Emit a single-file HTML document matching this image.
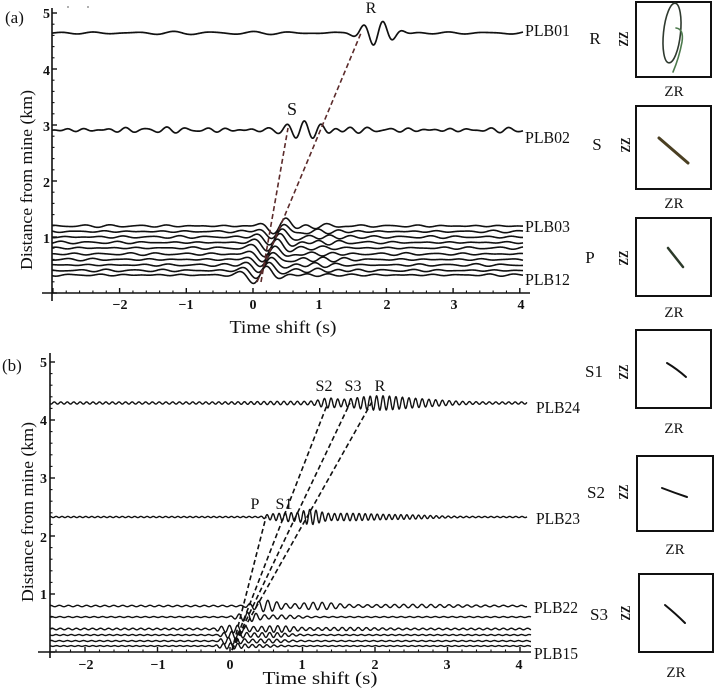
<!DOCTYPE html>
<html><head><meta charset="utf-8">
<style>
html,body{margin:0;padding:0;background:#fff;}
svg{display:block;}
text{font-family:"Liberation Serif",serif;fill:#111;}
.tk{font-weight:bold;font-size:14px;}
</style></head><body>
<svg id="s" width="715" height="691" viewBox="0 0 715 691" xmlns="http://www.w3.org/2000/svg">
<rect width="715" height="691" fill="#fff"/>
<circle cx="68" cy="7" r="1" fill="#999"/><circle cx="88" cy="7" r="1" fill="#999"/>

<!-- Panel (a) texts -->
<text x="5" y="23" font-size="17">(a)</text>
<text transform="translate(32,180) rotate(-90)" text-anchor="middle" font-size="17" textLength="180" lengthAdjust="spacingAndGlyphs">Distance from mine (km)</text>
<text x="283" y="333" text-anchor="middle" font-size="18" textLength="107" lengthAdjust="spacingAndGlyphs">Time shift (s)</text>
<g class="tk" text-anchor="middle">
<text x="120" y="309" class="tk">−2</text>
<text x="186" y="309" class="tk">−1</text>
<text x="253" y="309" class="tk">0</text>
<text x="319" y="309" class="tk">1</text>
<text x="387" y="309" class="tk">2</text>
<text x="454" y="309" class="tk">3</text>
<text x="521" y="309" class="tk">4</text>
</g>
<g text-anchor="end">
<text x="50" y="18" class="tk">5</text>
<text x="50" y="75" class="tk">4</text>
<text x="50" y="131" class="tk">3</text>
<text x="50" y="187" class="tk">2</text>
<text x="50" y="243" class="tk">1</text>
</g>
<g font-size="17">
<text x="525" y="36" textLength="45" lengthAdjust="spacingAndGlyphs">PLB01</text>
<text x="525" y="143" textLength="45" lengthAdjust="spacingAndGlyphs">PLB02</text>
<text x="525" y="232" textLength="45" lengthAdjust="spacingAndGlyphs">PLB03</text>
<text x="525" y="285" textLength="45" lengthAdjust="spacingAndGlyphs">PLB12</text>
</g>
<text x="371" y="13" text-anchor="middle" font-size="16">R</text>
<text x="292" y="115" text-anchor="middle" font-size="18">S</text>

<!-- Panel (b) texts -->
<text x="2" y="371" font-size="17">(b)</text>
<text transform="translate(33,512) rotate(-90)" text-anchor="middle" font-size="17" textLength="180" lengthAdjust="spacingAndGlyphs">Distance from mine (km)</text>
<text x="320" y="684" text-anchor="middle" font-size="18" textLength="115" lengthAdjust="spacingAndGlyphs">Time shift (s)</text>
<g text-anchor="middle">
<text x="86" y="669" class="tk">−2</text>
<text x="158" y="669" class="tk">−1</text>
<text x="230" y="669" class="tk">0</text>
<text x="302" y="669" class="tk">1</text>
<text x="375" y="669" class="tk">2</text>
<text x="447" y="669" class="tk">3</text>
<text x="519" y="669" class="tk">4</text>
</g>
<g text-anchor="end">
<text x="47" y="367" class="tk">5</text>
<text x="47" y="425" class="tk">4</text>
<text x="47" y="483" class="tk">3</text>
<text x="47" y="542" class="tk">2</text>
<text x="47" y="599" class="tk">1</text>
</g>
<g font-size="17">
<text x="536" y="413" textLength="44" lengthAdjust="spacingAndGlyphs">PLB24</text>
<text x="536" y="524" textLength="44" lengthAdjust="spacingAndGlyphs">PLB23</text>
<text x="534" y="613" textLength="44" lengthAdjust="spacingAndGlyphs">PLB22</text>
<text x="534" y="659" textLength="44" lengthAdjust="spacingAndGlyphs">PLB15</text>
</g>
<g font-size="16" text-anchor="middle">
<text x="324" y="391">S2</text>
<text x="353" y="391">S3</text>
<text x="380" y="391">R</text>
<text x="255" y="509">P</text>
<text x="284" y="509">S1</text>
</g>

<!-- Right side hodograms -->
<g fill="none" stroke="#111" stroke-width="2">
<rect x="636" y="2" width="75" height="75"/>
<rect x="636" y="106" width="75" height="83"/>
<rect x="636" y="218" width="75" height="78"/>
<rect x="636" y="330" width="75" height="78"/>
<rect x="637" y="456" width="76" height="75"/>
<rect x="639" y="574" width="74" height="78"/>
</g>
<g font-size="17" text-anchor="middle">
<text x="595" y="44">R</text>
<text x="597" y="150">S</text>
<text x="590" y="263">P</text>
<text x="594" y="377">S1</text>
<text x="596" y="498">S2</text>
<text x="599" y="620">S3</text>
</g>
<g font-size="14" font-weight="bold" text-anchor="middle">
<text transform="translate(628,39) rotate(-90)" textLength="15" lengthAdjust="spacingAndGlyphs">ZZ</text>
<text transform="translate(630,145) rotate(-90)" textLength="15" lengthAdjust="spacingAndGlyphs">ZZ</text>
<text transform="translate(628,258) rotate(-90)" textLength="15" lengthAdjust="spacingAndGlyphs">ZZ</text>
<text transform="translate(628,372) rotate(-90)" textLength="15" lengthAdjust="spacingAndGlyphs">ZZ</text>
<text transform="translate(628,492) rotate(-90)" textLength="15" lengthAdjust="spacingAndGlyphs">ZZ</text>
<text transform="translate(630,613) rotate(-90)" textLength="15" lengthAdjust="spacingAndGlyphs">ZZ</text>
</g>
<g font-size="15" text-anchor="middle">
<text x="674" y="96">ZR</text>
<text x="674" y="208">ZR</text>
<text x="674" y="317">ZR</text>
<text x="674" y="433">ZR</text>
<text x="675" y="554">ZR</text>
<text x="676" y="677">ZR</text>
</g>
<g fill="none" stroke-linecap="round">
<ellipse cx="672" cy="33" rx="8.5" ry="30" transform="rotate(6 672 33)" stroke="#2f3a2f" stroke-width="1.6"/>
<path d="M676,28 Q684,29 682,42 Q679,58 673,72" stroke="#4d7a4d" stroke-width="1.6"/>
<path d="M659,138 Q673,150 688,163" stroke="#4a3f22" stroke-width="3"/>
<path d="M668,248 L683,267" stroke="#2c3a2a" stroke-width="2.5"/>
<path d="M667,363 Q677,369 686,377" stroke="#111" stroke-width="2"/>
<path d="M662,488 Q675,493 687,497" stroke="#111" stroke-width="2"/>
<path d="M665,605 Q676,614 685,623" stroke="#111" stroke-width="2"/>
</g>

<g id="axes"></g>
<g id="waves" fill="none" stroke="#111" stroke-linejoin="round"></g>
<g id="dash" fill="none"></g>
</svg>
<script>
(function(){
const NS="http://www.w3.org/2000/svg";
const TP=2*Math.PI;
function G(t,c,w){const u=(t-c)/w;return Math.exp(-u*u);}
function sm(t,c,w){return 1/(1+Math.exp(-(t-c)/w*4));}
function nz(t,s,f){return Math.sin(TP*f*t+s*1.7)*(0.65+0.35*Math.sin(TP*f*0.11*t+s*2.3))+0.35*Math.sin(TP*f*1.43*t+s*0.9);}
function el(tag,attrs,parent){const e=document.createElementNS(NS,tag);for(const k in attrs)e.setAttribute(k,attrs[k]);parent.appendChild(e);return e;}
const axes=document.getElementById('axes');
const waves=document.getElementById('waves');
const dash=document.getElementById('dash');

function line(x1,y1,x2,y2,w){el('line',{x1:x1,y1:y1,x2:x2,y2:y2,stroke:'#111','stroke-width':w||1.5},axes);}

// ---- Panel A axes ----
const XA=t=>253+66.7*t, TA=x=>(x-253)/66.7, YA=d=>293-56*d;
line(42,293,530,293,1.6);
line(52,8,52,301,1.6);
for(let i=-15;i<=20;i++){const t=i*0.2;const x=XA(t);if(x<50||x>530)continue;
  const maj=(i%5===0);line(x,293,x,293-(maj?5:2.5),maj?1.4:1.1);}
for(let i=0;i<=25;i++){const y=YA(i*0.2);const maj=(i%5===0);line(52,y,52+(maj?5:2.5),y,maj?1.4:1.1);}

// ---- Panel B axes ----
const XB=t=>230+72.5*t, TB=x=>(x-230)/72.5, YB=d=>652-58*d;
line(38,652,531,652,1.6);
line(50,353,50,658,1.6);
for(let i=-12;i<=21;i++){const t=i*0.2;const x=XB(t);if(x<48||x>531)continue;
  const maj=(i%5===0);line(x,652,x,652-(maj?5:2.5),maj?1.4:1.1);}
for(let i=0;i<=25;i++){const y=YB(i*0.2);const maj=(i%5===0);line(50,y,50+(maj?5:2.5),y,maj?1.4:1.1);}

function trace(inv,x0,x1,base,fn,sw){
  let d="";
  for(let x=x0;x<=x1+0.01;x+=0.5){const t=inv(x);const y=base-fn(t);d+=(d?"L":"M")+x.toFixed(1)+","+y.toFixed(2);}
  el('path',{d:d,'stroke-width':sw},waves);
}

// ---- Panel A traces ----
trace(TA,52,523,33,t=>1.3*nz(t,1,1.7)+13*G(t,1.87,0.28)*Math.sin(TP*3.33*(t-1.575)),1.7);
trace(TA,52,523,130,t=>2.3*nz(t,2,3.3)+9*G(t,0.8,0.4)*Math.sin(TP*4*(t-0.4475)),1.7);
const basesA=[226,231.5,237,242.5,248,254,259.5,265,270.5,275];
basesA.forEach((b,i)=>{
  const s=(9-i)*0.033;
  trace(TA,52,523,b,t=>1.0*nz(t,5+i,2.4)+9*G(t,0.12+s,0.28)*(-Math.cos(TP*2.3*(t-s)))+2.5*G(t,0.85+0.6*s+0.05*(i%3),0.4)*Math.sin(TP*(2.8+0.15*(i%4))*(t-s)+i*1.3),1.6);
});

// ---- Panel B traces ----
trace(TB,50,527,403,t=>{
  const env=1.1+0.6*G(t,0.8,0.6)+3*G(t,1.35,0.15)+5.5*G(t,2.0,0.45)+2.5*G(t,2.6,0.5);
  return env*Math.sin(TP*11*t+0.6*Math.sin(TP*0.5*t));},1.4);
trace(TB,50,527,517,t=>{
  const env=0.6+sm(t,0.45,0.05)*(2.5*G(t,0.6,0.15)+3*G(t,0.8,0.12)+6*G(t,1.1,0.18)+3*G(t,1.6,0.5)+1.5*G(t,2.4,0.5));
  return env*Math.sin(TP*12*t+0.8*Math.sin(TP*0.4*t));},1.4);
trace(TB,50,527,606,t=>{
  const env=0.7+sm(t,0.2,0.05)*(5*G(t,0.5,0.22)+3*G(t,1.2,0.35)+1*G(t,2.5,0.8));
  return env*Math.sin(TP*8*t+0.5);},1.4);
trace(TB,50,531,617,t=>{
  const env=0.5+sm(t,0.0,0.05)*(4*G(t,0.25,0.18)+1.5*G(t,0.7,0.3));
  return env*Math.sin(TP*8.5*t+1.2);},1.4);
trace(TB,50,531,629,t=>{
  const env=0.8+sm(t,-0.2,0.05)*(3*G(t,0.05,0.25)+2.5*G(t,0.65,0.3)+0.8*G(t,1.6,0.5));
  return env*Math.sin(TP*9*t+2.0);},1.4);
trace(TB,50,531,635,t=>{
  const env=0.5+sm(t,-0.15,0.05)*(3*G(t,0.05,0.2)+2*G(t,0.55,0.3));
  return env*Math.sin(TP*9.5*t+0.3);},1.4);
trace(TB,50,531,641,t=>{
  const env=0.5+sm(t,-0.15,0.05)*(3*G(t,0,0.2)+1.5*G(t,0.5,0.3));
  return env*Math.sin(TP*9*t+2.7);},1.4);
trace(TB,50,531,646,t=>{
  const env=0.4+sm(t,-0.2,0.05)*(2.5*G(t,0,0.2)+1*G(t,0.4,0.3));
  return env*Math.sin(TP*10*t+1.1);},1.4);

// ---- Dashed lines ----
function dl(x1,y1,x2,y2,col){el('line',{x1:x1,y1:y1,x2:x2,y2:y2,stroke:col,'stroke-width':1.6,'stroke-dasharray':'5,3'},dash);}
dl(261,282,288,128,'#5b2b2b');
dl(257,282,361,33,'#5b2b2b');
dl(232,650,266,517,'#111');
dl(232,650,327,405,'#111');
dl(232,650,350,403,'#111');
dl(232,650,373,400,'#111');
})();
</script>
</body></html>
